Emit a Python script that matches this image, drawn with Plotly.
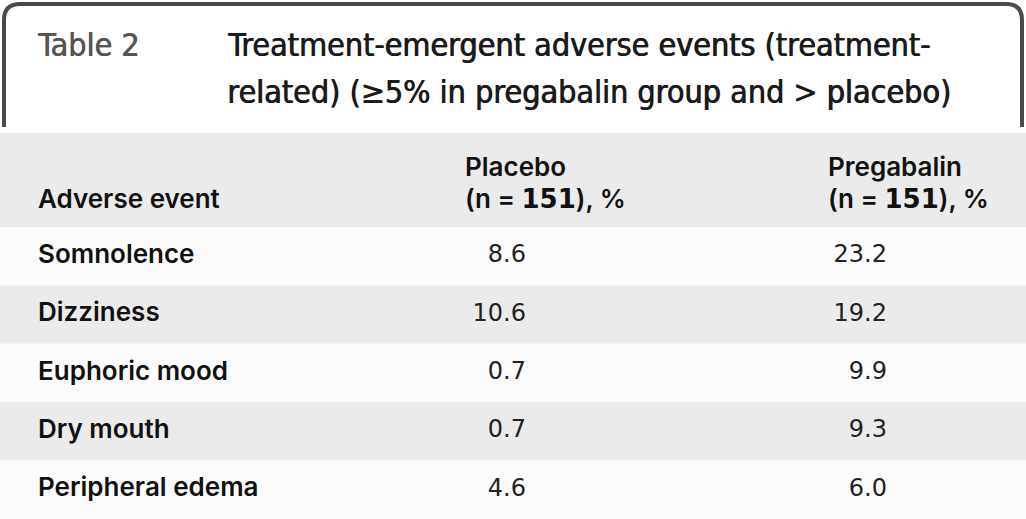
import plotly.graph_objects as go

events = ["Somnolence", "Dizziness", "Euphoric mood", "Dry mouth", "Peripheral edema"]
placebo = ["8.6", "10.6", "0.7", "0.7", "4.6"]
pregabalin = ["23.2", "19.2", "9.9", "9.3", "6.0"]
col_headers = ["Adverse event", "Placebo", "Pregabalin"]
n_label = "(n = <span style='font-family:DejaVu Sans'>151</span>), %"
table_label = "Table 2"
title_lines = ["Treatment-emergent adverse events (treatment-",
               "related) (≥5% in pregabalin group and > placebo)"]

W, H = 1026, 519
header_top, header_bot = 133, 227
row_h = (H - header_bot) / len(events)
col_x = [38, 465, 828]
num_right = [526, 887]
BODY = "Inter"
NUM = "DejaVu Sans"
TITLE = "DejaVu Sans Condensed"

fig = go.Figure()
shapes = []
shapes.append(dict(type="rect", xref="x", yref="y", x0=0, x1=W, y0=header_top, y1=header_bot,
                   fillcolor="#ebebeb", line=dict(width=0), layer="below"))
for i in range(len(events)):
    y0 = header_bot + i * row_h
    shapes.append(dict(type="rect", xref="x", yref="y", x0=0, x1=W, y0=y0, y1=y0 + row_h,
                       fillcolor="#ebebeb" if i % 2 == 1 else "#fbfbfb", line=dict(width=0), layer="below"))
shapes.append(dict(type="path", xref="x", yref="y",
                   path="M 4,127 L 4,20 Q 4,4 20,4 L 1006,4 Q 1022,4 1022,20 L 1022,127",
                   line=dict(color="#4a4a4a", width=4)))

row_y = [header_bot + (i + 0.5) * row_h for i in range(len(events))]

fig.add_trace(go.Scatter(x=[col_x[0]] * len(events), y=row_y, text=events, mode="text",
                         textposition="middle right",
                         textfont=dict(family=BODY, size=26, color="#111111", weight=600),
                         hoverinfo="skip", showlegend=False))
fig.add_trace(go.Scatter(x=[num_right[0]] * len(events), y=row_y, text=placebo, mode="text",
                         textposition="middle left",
                         textfont=dict(family=NUM, size=24, color="#222222"),
                         hoverinfo="skip", showlegend=False))
fig.add_trace(go.Scatter(x=[num_right[1]] * len(events), y=row_y, text=pregabalin, mode="text",
                         textposition="middle left",
                         textfont=dict(family=NUM, size=24, color="#222222"),
                         hoverinfo="skip", showlegend=False))

hfont = dict(family=BODY, size=26, color="#111111", weight=600)
annotations = []
annotations.append(dict(x=col_x[0] - 2, y=198, xref="x", yref="y", text=col_headers[0], showarrow=False,
                        xanchor="left", yanchor="middle", font=hfont))
for j in (1, 2):
    annotations.append(dict(x=col_x[j] - 2, y=166, xref="x", yref="y", text=col_headers[j], showarrow=False,
                            xanchor="left", yanchor="middle", font=hfont))
    annotations.append(dict(x=col_x[j] - 2, y=198, xref="x", yref="y", text=n_label, showarrow=False,
                            xanchor="left", yanchor="middle", font=hfont))
annotations.append(dict(x=35, y=45, xref="x", yref="y", text=table_label, showarrow=False,
                        xanchor="left", yanchor="middle",
                        font=dict(family=TITLE, size=32, color="#555555",
                                  shadow="0.7px 0px 0px #555555")))
for k, line in enumerate(title_lines):
    annotations.append(dict(x=225, y=45 + 47 * k, xref="x", yref="y", text=line, showarrow=False,
                            xanchor="left", yanchor="middle",
                            font=dict(family=TITLE, size=32, color="#1a1a1a",
                                      shadow="0.8px 0px 0px #1a1a1a")))

fig.update_layout(
    width=W, height=H, margin=dict(l=0, r=0, t=0, b=0),
    paper_bgcolor="white", plot_bgcolor="white",
    xaxis=dict(range=[0, W], visible=False, fixedrange=True),
    yaxis=dict(range=[H, 0], visible=False, fixedrange=True),
    shapes=shapes, annotations=annotations,
)
fig.write_html("out.html", config={"displayModeBar": False},
               post_script="document.body.style.margin='0';document.body.style.overflow='hidden';")
